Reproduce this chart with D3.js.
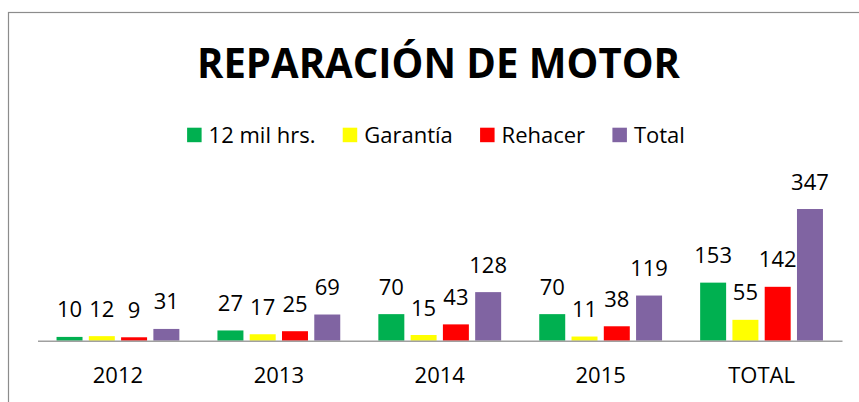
<!DOCTYPE html>
<html>
<head>
<meta charset="utf-8">
<script src="https://cdn.jsdelivr.net/npm/d3@7/dist/d3.min.js"></script>
<style>
  html, body { margin: 0; padding: 0; background: #fff; }
  svg { display: block; font-family: "Open Sans", "Noto Sans", sans-serif; }
</style>
</head>
<body>
<svg id="chart" width="859" height="402"></svg>
<script>
// chart data
var categories = ["2012", "2013", "2014", "2015", "TOTAL"];
var seriesNames = ["12 mil hrs.", "Garantía", "Rehacer", "Total"];
var milHrs = [10, 27, 70, 70, 153];
var garantia = [12, 17, 15, 11, 55];
var rehacer = [9, 25, 43, 38, 142];
var total = [31, 69, 128, 119, 347];
var colors = ["#00B050", "#FFFF00", "#FF0000", "#8064A2"];

var seriesValues = [milHrs, garantia, rehacer, total];

var svg = d3.select("#chart"),
    width = 859,
    height = 402;

// outer chart frame (runs past right and bottom edge)
svg.append("rect")
    .attr("x", 8.5)
    .attr("y", 12.5)
    .attr("width", 900)
    .attr("height", 500)
    .attr("fill", "none")
    .attr("stroke", "#8c8c8c")
    .attr("stroke-width", 1.2);

// title
svg.append("text")
    .attr("x", 197)
    .attr("y", 77.7)
    .attr("textLength", 483)
    .attr("lengthAdjust", "spacingAndGlyphs")
    .style("font-size", "41px")
    .style("font-weight", "bold")
    .style("fill", "#000")
    .text("REPARACIÓN DE MOTOR");

var x0 = d3.scaleBand()
    .domain(categories)
    .range([37.5, 842]);

var x1 = d3.scaleBand()
    .domain(seriesNames)
    .range([0, x0.bandwidth()])
    .paddingInner(0.195)
    .paddingOuter(0.59);

var y = d3.scaleLinear()
    .domain([0, 400])
    .range([340.7, 188.9]);

var rows = categories.map(function(c, i) {
    return {
        cat: c,
        items: seriesNames.map(function(s, j) {
            return {name: s, value: seriesValues[j][i], color: colors[j]};
        })
    };
});

var groups = svg.selectAll("g.grp")
    .data(rows)
    .enter().append("g")
    .attr("class", "grp")
    .attr("transform", function(d) { return "translate(" + x0(d.cat) + ",0)"; });

groups.selectAll("rect")
    .data(function(d) { return d.items; })
    .enter().append("rect")
    .attr("x", function(d) { return x1(d.name); })
    .attr("y", function(d) { return y(d.value); })
    .attr("width", x1.bandwidth())
    .attr("height", function(d) { return y(0) - y(d.value); })
    .attr("fill", function(d) { return d.color; });

groups.selectAll("text.lbl")
    .data(function(d) { return d.items; })
    .enter().append("text")
    .attr("class", "lbl")
    .attr("x", function(d) { return x1(d.name) + x1.bandwidth() / 2; })
    .attr("y", function(d) { return y(d.value) - 19.5; })
    .attr("text-anchor", "middle")
    .style("font-size", "22px")
    .style("fill", "#000")
    .text(function(d) { return d.value; });

// category axis
var xAxis = svg.append("g")
    .attr("transform", "translate(0," + y(0) + ")")
    .call(d3.axisBottom(x0).tickSize(0).tickPadding(0).tickSizeOuter(0));

xAxis.select(".domain")
    .attr("stroke", "#a0a0a0")
    .attr("stroke-width", 1.5);

xAxis.selectAll(".tick text")
    .attr("y", 383.3 - y(0))
    .attr("dy", null)
    .style("font-family", "\"Open Sans\", \"Noto Sans\", sans-serif")
    .style("font-size", "22px")
    .style("fill", "#000");

// legend
var legend = svg.append("g");
var lx = 0;
seriesNames.forEach(function(name, i) {
    var item = legend.append("g").attr("transform", "translate(" + lx + ",0)");
    item.append("rect")
        .attr("x", 0)
        .attr("y", 127.7)
        .attr("width", 14.5)
        .attr("height", 14.5)
        .attr("fill", colors[i]);
    var t = item.append("text")
        .attr("x", 21.5)
        .attr("y", 142.5)
        .style("font-size", "22px")
        .style("fill", "#000")
        .text(name);
    lx += 21.5 + t.node().getComputedTextLength() + 27.3;
});
var legendWidth = lx - 27.3;
legend.attr("transform", "translate(" + (436 - legendWidth / 2) + ",0)");
</script>
</body>
</html>
